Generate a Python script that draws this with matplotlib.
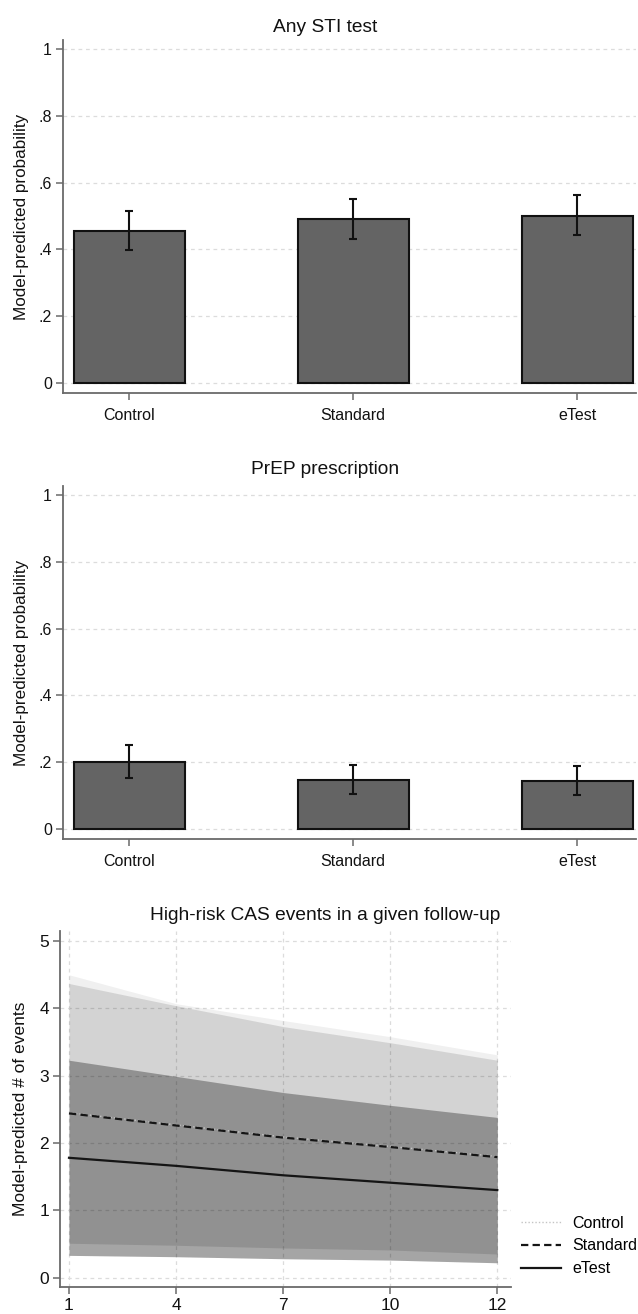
import matplotlib.pyplot as plt
import numpy as np

plt.rcParams['font.family'] = ['Liberation Sans', 'DejaVu Sans']

# bar panels: groups, predicted probability and 95% CI
groups = ['Control', 'Standard', 'eTest']
sti_mean = [0.455, 0.490, 0.500]
sti_lo = [0.397, 0.432, 0.443]
sti_hi = [0.516, 0.552, 0.562]

prep_mean = [0.200, 0.146, 0.145]
prep_lo = [0.154, 0.104, 0.103]
prep_hi = [0.251, 0.193, 0.190]

prob_ticks = [0, 0.2, 0.4, 0.6, 0.8, 1]
prob_labels = ['0', '.2', '.4', '.6', '.8', '1']

# line panel: follow-up visits, predicted # of events and CIs
followup = ['1', '4', '7', '10', '12']
control_mean = [2.45, 2.27, 2.09, 1.95, 1.80]
control_lo = [0.33, 0.31, 0.28, 0.26, 0.22]
control_hi = [4.50, 4.07, 3.82, 3.58, 3.31]
standard_mean = [2.44, 2.26, 2.08, 1.94, 1.79]
standard_lo = [0.51, 0.48, 0.44, 0.41, 0.35]
standard_hi = [4.37, 4.04, 3.73, 3.49, 3.23]
etest_mean = [1.78, 1.66, 1.52, 1.41, 1.30]
etest_lo = [0.33, 0.31, 0.28, 0.26, 0.22]
etest_hi = [3.23, 2.99, 2.75, 2.56, 2.38]

W, H = 638, 1314
SPINE = '#6a6a6a'
GRID = '#dcdcdc'
TXT = '#111111'

fig = plt.figure(figsize=(W / 100, H / 100), dpi=100)


def style_axes(ax):
    for s in ['top', 'right']:
        ax.spines[s].set_visible(False)
    for s in ['left', 'bottom']:
        ax.spines[s].set_color(SPINE)
        ax.spines[s].set_linewidth(1.3)
    ax.tick_params(colors=SPINE, labelcolor=TXT, length=5, width=1.1,
                   labelsize=11.5, pad=3)


def bar_panel(ax, means, lo, hi, title, title_y):
    x = np.arange(len(groups))
    means = np.array(means)
    err = [means - np.array(lo), np.array(hi) - means]
    ax.bar(x, means, width=0.495, color='#646464', edgecolor='#111111',
           linewidth=1.5, zorder=2)
    ax.errorbar(x, means, yerr=err, fmt='none', ecolor='#111111',
                elinewidth=1.5, capsize=3, capthick=1.5, zorder=3)
    ax.set_xlim(-0.295, 2.263)
    ax.set_ylim(-0.03, 1.027)
    ax.set_xticks(x)
    ax.set_xticklabels(groups)
    ax.set_yticks(prob_ticks)
    ax.set_yticklabels(prob_labels)
    ax.yaxis.grid(True, color=GRID, linestyle=(0, (3, 3)), linewidth=0.9)
    ax.set_axisbelow(True)
    style_axes(ax)
    ax.tick_params(axis='x', pad=6)
    ax.set_ylabel('Model-predicted probability', fontsize=12.3, color=TXT,
                  labelpad=7)
    fig.text(325 / W, 1 - title_y / H, title, ha='center', va='center',
             fontsize=13.8, color=TXT)


ax1 = fig.add_axes([63 / W, 1 - 393 / H, 573 / W, 353 / H])
bar_panel(ax1, sti_mean, sti_lo, sti_hi, 'Any STI test', 27)

ax2 = fig.add_axes([63 / W, 1 - 839 / H, 573 / W, 353 / H])
bar_panel(ax2, prep_mean, prep_lo, prep_hi, 'PrEP prescription', 470)

# line panel with overlapping confidence bands
ax3 = fig.add_axes([60 / W, 1 - 1287 / H, 451 / W, 356 / H])
xi = np.arange(len(followup))
ax3.fill_between(xi, control_lo, control_hi, color='black', alpha=0.06,
                 linewidth=0, zorder=1)
ax3.fill_between(xi, standard_lo, standard_hi, color='black', alpha=0.117,
                 linewidth=0, zorder=1)
ax3.fill_between(xi, etest_lo, etest_hi, color='black', alpha=0.31,
                 linewidth=0, zorder=1)
ax3.plot(xi, control_mean, color='#c4c4c4', linewidth=1,
         linestyle=(0, (1, 1.5)), label='Control', zorder=2)
ax3.plot(xi, standard_mean, color='#151515', linewidth=1.6,
         linestyle=(0, (3.3, 1.9)), label='Standard', zorder=3)
ax3.plot(xi, etest_mean, color='#151515', linewidth=1.6, label='eTest',
         zorder=3)
ax3.set_xlim(-0.084, 4.128)
ax3.set_ylim(-0.14, 5.15)
ax3.set_xticks(xi)
ax3.set_xticklabels(followup)
ax3.set_yticks([0, 1, 2, 3, 4, 5])
ax3.grid(True, color=GRID, linestyle=(0, (3, 3)), linewidth=0.9)
ax3.set_axisbelow(True)
style_axes(ax3)
ax3.tick_params(labelsize=12.5)
ax3.set_ylabel('Model-predicted # of events', fontsize=12.5, color=TXT,
               labelpad=8)
fig.text(325 / W, 1 - 915 / H, 'High-risk CAS events in a given follow-up',
         ha='center', va='center', fontsize=13.8, color=TXT)
ax3.legend(loc='center left', bbox_to_anchor=(521 / W, 1 - 1246 / H),
           bbox_transform=fig.transFigure, frameon=False, fontsize=11.5,
           handlelength=2.5, handletextpad=0.7, labelspacing=0.5,
           borderpad=0, borderaxespad=0)

fig.savefig('out.png', dpi=100, facecolor='white')
